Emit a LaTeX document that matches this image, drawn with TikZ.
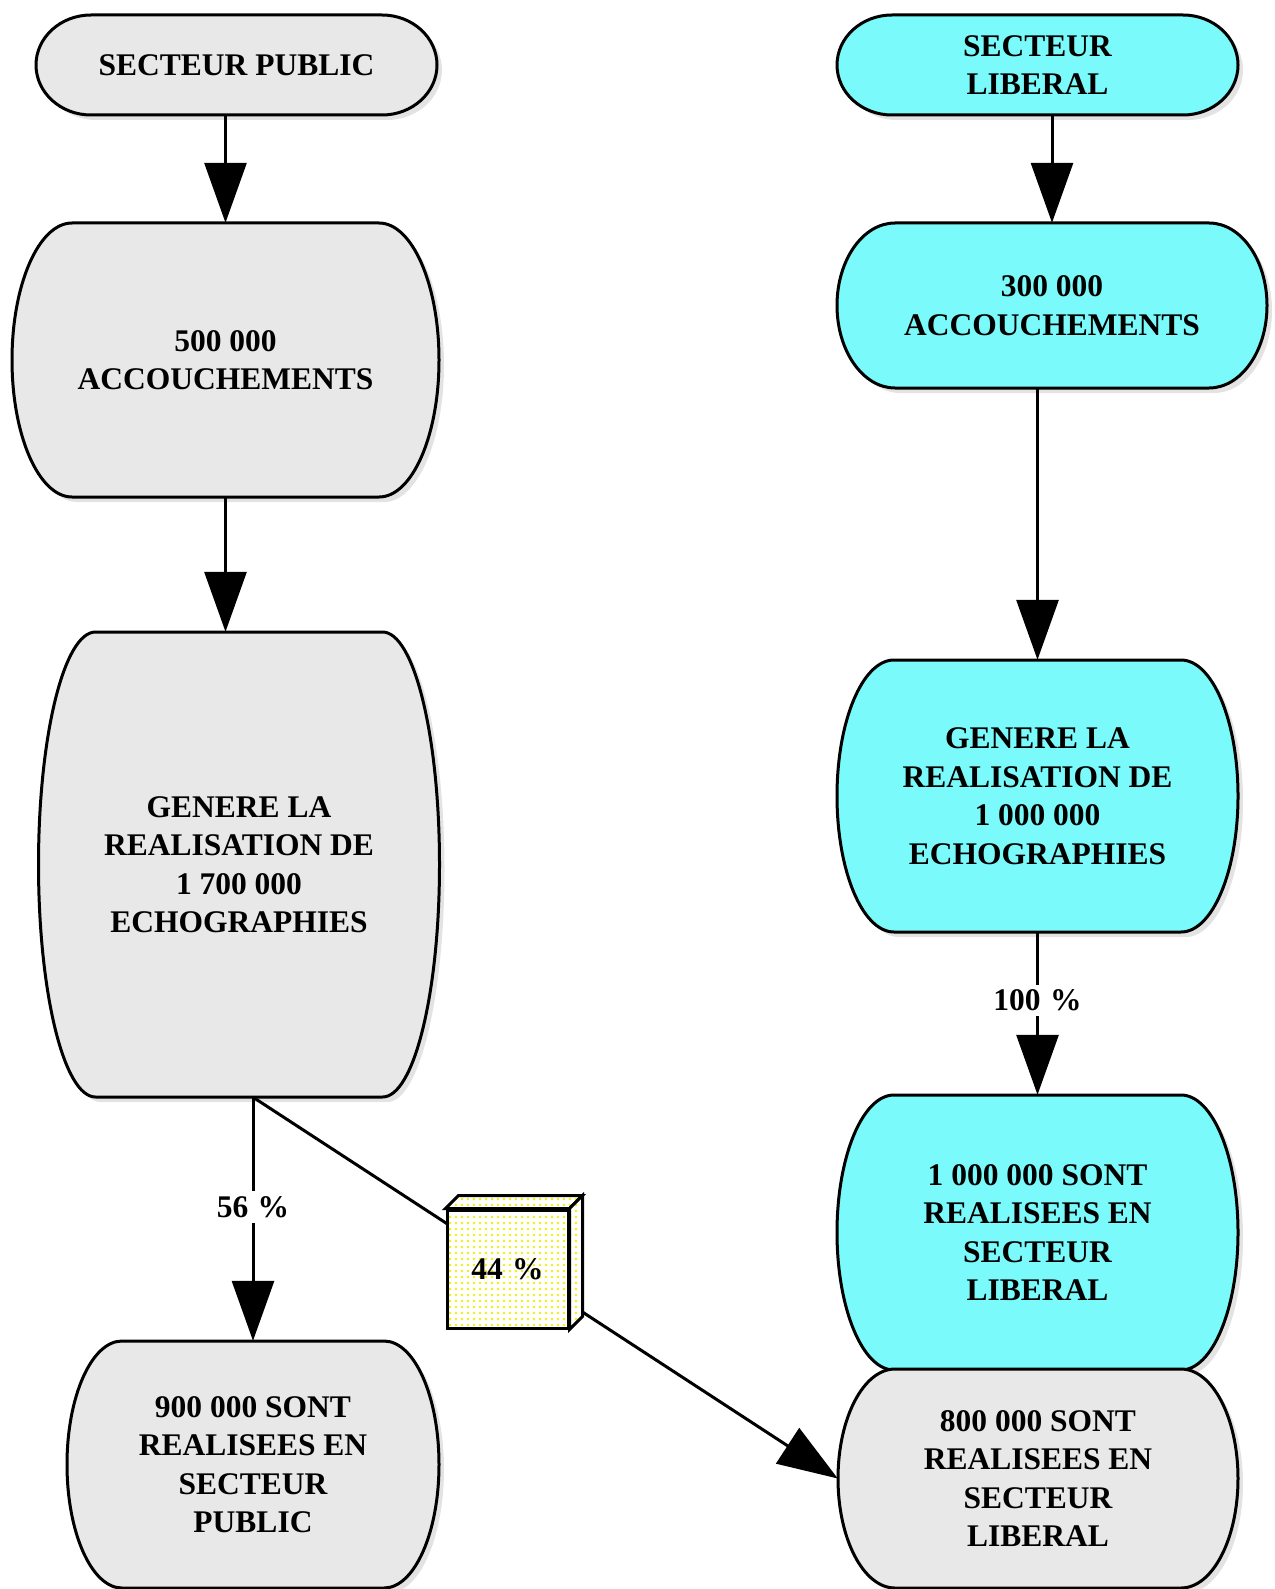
\documentclass[tikz,border=0pt]{standalone}
\usepackage{fontspec}
\setmainfont{Liberation Serif}
\usetikzlibrary{arrows.meta,shadows,patterns.meta,calc}
\definecolor{cyanfill}{HTML}{7AFAFA}
\definecolor{grayfill}{HTML}{E8E8E8}
\definecolor{dotyellow}{HTML}{F0F000}
\tikzset{
  blobline/.style={draw=black, line width=3pt, line join=round,
    drop shadow={opacity=0.22, shadow xshift=5pt, shadow yshift=-5pt}},
  blobtext/.style={align=center, inner sep=0pt,
    font=\fontsize{31.5}{38.5}\selectfont\bfseries},
  conn/.style={line width=3pt, -{Triangle[width=42pt,length=60pt]}},
  pct/.style={fill=white, inner sep=5pt, font=\fontsize{31.5}{38.5}\selectfont\bfseries},
  box44/.style={draw=black, line width=3pt, minimum width=121pt, minimum height=118pt,
    preaction={fill=white}, pattern={Dots[distance=6pt,radius=1.3pt]}, pattern color=dotyellow,
    font=\fontsize{31.5}{38.5}\selectfont\bfseries},
  face3d/.style={draw=black, line width=3pt, line join=miter,
    preaction={fill=white}, pattern={Dots[distance=6pt,radius=1.3pt]}, pattern color=dotyellow}
}
% name, cx, cy, w, h, rx, fill, text
\newcommand\blobnode[8]{%
  \path[blobline, fill=#7]
    (#2-#4/2+#6, #3-#5/2) -- (#2+#4/2-#6, #3-#5/2)
    arc[start angle=-90, end angle=90, x radius=#6, y radius=#5/2]
    -- (#2-#4/2+#6, #3+#5/2)
    arc[start angle=90, end angle=270, x radius=#6, y radius=#5/2] -- cycle;
  \node[blobtext, minimum width=#4pt, minimum height=#5pt] (#1) at (#2,#3) {#8};
}
\begin{document}
\begin{tikzpicture}[x=1pt,y=-1pt]
\useasboundingbox (0,0) rectangle (1274,1589);

\blobnode{n1}{236.5}{65}{401}{100}{55}{grayfill}{SECTEUR PUBLIC}
\blobnode{n2}{1037.5}{65}{401}{100}{55}{cyanfill}{SECTEUR\\LIBERAL}
\blobnode{n3}{225.5}{360}{427}{274}{60}{grayfill}{500 000\\ACCOUCHEMENTS}
\blobnode{n4}{1052}{305.5}{430}{165}{58}{cyanfill}{300 000\\ACCOUCHEMENTS}
\blobnode{n5}{239}{864.5}{401}{465}{57}{grayfill}{GENERE LA\\REALISATION DE\\1 700 000\\ECHOGRAPHIES}
\blobnode{n6}{1037.5}{796}{401}{272}{57}{cyanfill}{GENERE LA\\REALISATION DE\\1 000 000\\ECHOGRAPHIES}
\blobnode{n7}{1037.5}{1232.5}{401}{275}{57}{cyanfill}{1 000 000 SONT\\REALISEES EN\\SECTEUR\\LIBERAL}
\blobnode{n8}{1038}{1478.5}{400}{219}{57}{grayfill}{800 000 SONT\\REALISEES EN\\SECTEUR\\LIBERAL}
\blobnode{n9}{253}{1464.5}{372}{247}{55}{grayfill}{900 000 SONT\\REALISEES EN\\SECTEUR\\PUBLIC}

\draw[conn] (n1.south -| n3.north) -- (n3.north);
\draw[conn] (n3.south) -- (n3.south |- n5.north);
\draw[conn] (n2.south -| n4.north) -- (n4.north);
\draw[conn] (n4.south -| n6.north) -- (n6.north);
\draw[conn] (n6.south) -- node[pct, pos=0.42] (p100) {100\hspace{0.3em}\%} (n7.north);
\draw[conn] (n5.south -| n9.north) -- node[pct, pos=0.45] (p56) {56\hspace{0.3em}\%} (n9.north);
\draw[conn] (n5.south -| n9.north) -- (n8.west);

\node[box44] (l44) at (507.5,1269) {44\hspace{0.3em}\%};
\draw[face3d] (l44.north west) -- ++(13pt,13pt) -- ($(l44.north east)+(13pt,13pt)$) -- (l44.north east) -- cycle;
\draw[face3d] (l44.north east) -- ++(13pt,13pt) -- ($(l44.south east)+(13pt,13pt)$) -- (l44.south east) -- cycle;
\end{tikzpicture}
\end{document}
